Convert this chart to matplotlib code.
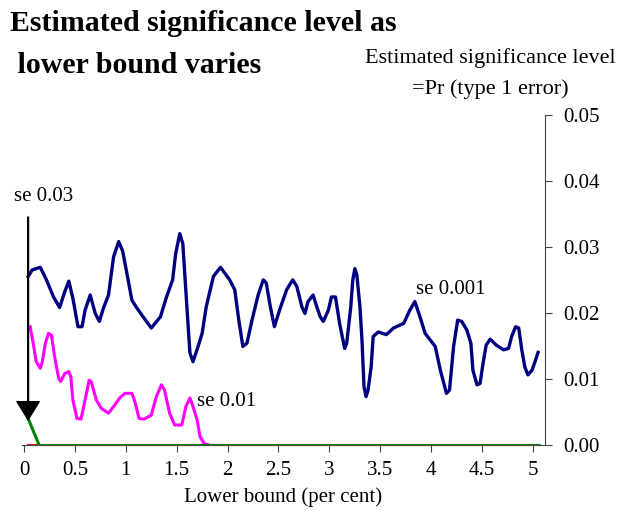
import numpy as np
import matplotlib
matplotlib.use('Agg')
import matplotlib.pyplot as plt

plt.rcParams['font.family'] = ['Liberation Serif', 'DejaVu Serif']

# se 0.001 series (navy)
x_001 = [0.04, 0.08, 0.16, 0.22, 0.29, 0.35, 0.40, 0.44, 0.48, 0.53, 0.57, 0.60, 0.65,
         0.70, 0.74, 0.78, 0.83, 0.88, 0.93, 0.97, 1.02, 1.06, 1.11, 1.17, 1.25, 1.34,
         1.40, 1.46, 1.49, 1.53, 1.56, 1.60, 1.63, 1.66, 1.71, 1.75, 1.79, 1.86, 1.93,
         2.02, 2.07, 2.11, 2.15, 2.19, 2.24, 2.30, 2.35, 2.38, 2.42, 2.46, 2.51, 2.58,
         2.64, 2.68, 2.73, 2.76, 2.79, 2.84, 2.87, 2.91, 2.94, 2.99, 3.02, 3.06, 3.10,
         3.15, 3.17, 3.21, 3.23, 3.25, 3.27, 3.30, 3.32, 3.34, 3.36, 3.38, 3.41, 3.43,
         3.48, 3.56, 3.63, 3.73, 3.79, 3.84, 3.89, 3.94, 3.99, 4.04, 4.09, 4.15, 4.18,
         4.22, 4.26, 4.30, 4.35, 4.39, 4.41, 4.45, 4.48, 4.51, 4.54, 4.58, 4.64, 4.71,
         4.76, 4.79, 4.83, 4.86, 4.89, 4.92, 4.95, 4.99, 5.02, 5.05]
y_001 = [0.0256, 0.0266, 0.0270, 0.0251, 0.0225, 0.0209, 0.0233, 0.0249, 0.0223, 0.0180,
         0.0180, 0.0205, 0.0228, 0.0200, 0.0188, 0.0208, 0.0228, 0.0286, 0.0309, 0.0294,
         0.0253, 0.0220, 0.0208, 0.0195, 0.0178, 0.0195, 0.0225, 0.0251, 0.0291, 0.0321,
         0.0306, 0.0210, 0.0140, 0.0127, 0.0150, 0.0170, 0.0210, 0.0256, 0.0270, 0.0251,
         0.0236, 0.0190, 0.0150, 0.0155, 0.0190, 0.0228, 0.0251, 0.0246, 0.0210, 0.0180,
         0.0205, 0.0236, 0.0251, 0.0241, 0.0210, 0.0200, 0.0218, 0.0228, 0.0213, 0.0195,
         0.0188, 0.0205, 0.0225, 0.0225, 0.0185, 0.0147, 0.0155, 0.0210, 0.0251, 0.0268,
         0.0258, 0.0210, 0.0160, 0.0089, 0.0074, 0.0084, 0.0119, 0.0165, 0.0172, 0.0168,
         0.0178, 0.0185, 0.0205, 0.0218, 0.0195, 0.0170, 0.0160, 0.0150, 0.0114, 0.0079,
         0.0084, 0.0150, 0.0190, 0.0188, 0.0175, 0.0155, 0.0114, 0.0092, 0.0094, 0.0125,
         0.0152, 0.0161, 0.0152, 0.0145, 0.0147, 0.0165, 0.0180, 0.0178, 0.0145, 0.0119,
         0.0107, 0.0114, 0.0127, 0.0141]

# se 0.01 series (magenta)
x_01 = [0.06, 0.09, 0.12, 0.16, 0.18, 0.21, 0.24, 0.27, 0.30, 0.34, 0.36, 0.40, 0.44,
        0.46, 0.48, 0.52, 0.56, 0.60, 0.64, 0.66, 0.71, 0.76, 0.83, 0.89, 0.94, 0.99,
        1.06, 1.09, 1.13, 1.18, 1.25, 1.30, 1.35, 1.38, 1.43, 1.48, 1.55, 1.59, 1.63,
        1.66, 1.70, 1.73, 1.77, 1.83]
y_01 = [0.0180, 0.0155, 0.0127, 0.0117, 0.0127, 0.0155, 0.0170, 0.0167, 0.0135, 0.0102,
        0.0097, 0.0109, 0.0112, 0.0104, 0.0069, 0.0041, 0.0040, 0.0069, 0.0099, 0.0097,
        0.0069, 0.0056, 0.0049, 0.0061, 0.0072, 0.0079, 0.0079, 0.0066, 0.0041, 0.0040,
        0.0046, 0.0074, 0.0092, 0.0084, 0.0049, 0.0031, 0.0031, 0.0059, 0.0072, 0.0059,
        0.0039, 0.0013, 0.0003, 0.0000]

# se 0.03 series (green) and a tiny red one at zero
x_03 = [0.04, 0.15, 5.06]
y_03 = [0.0041, 0.0, 0.0]
x_red = [0.04, 0.13]
y_red = [0.0, 0.0]

xticks = [0, 0.5, 1, 1.5, 2, 2.5, 3, 3.5, 4, 4.5, 5]
xticklabels = ['0', '0.5', '1', '1.5', '2', '2.5', '3', '3.5', '4', '4.5', '5']
yticks = [0.0, 0.01, 0.02, 0.03, 0.04, 0.05]

fig = plt.figure(figsize=(6.21, 5.11), dpi=100)
ax = fig.add_axes([0.0354, 0.1282, 0.8422, 0.6458])

ax.plot(x_red, y_red, color='#FF0000', linewidth=2.2, zorder=2)
ax.plot(x_01, y_01, color='#FF00FF', linewidth=2.2, zorder=3)
ax.plot(x_001, y_001, color='#000080', linewidth=2.4, zorder=3)
ax.plot(x_03, y_03, color='#008000', linewidth=2.2, zorder=4)

ax.annotate('', xy=(0.04, 0.0039), xytext=(0.04, 0.0346),
            arrowprops=dict(facecolor='black', edgecolor='black', width=0.6,
                            headwidth=16, headlength=13, shrink=0), zorder=5)

ax.text(0.19, 0.0378, 'se 0.03', ha='center', va='center', fontsize=15)
ax.text(1.70, 0.0066, 'se 0.01', ha='left', va='center', fontsize=15)
ax.text(3.85, 0.0236, 'se 0.001', ha='left', va='center', fontsize=15)

ax.set_xlim(-0.02, 5.118)
ax.set_ylim(0, 0.05)
ax.spines['top'].set_visible(False)
ax.spines['left'].set_visible(False)
ax.spines['right'].set_color('#444444')
ax.spines['bottom'].set_color('#444444')
ax.yaxis.tick_right()
ax.set_yticks(yticks)
ax.set_yticklabels(['%.2f' % v for v in yticks], fontsize=15)
ax.set_xticks(xticks)
ax.set_xticklabels(xticklabels, fontsize=15)
ax.tick_params(axis='y', direction='out', length=5, pad=8, color='#444444')
ax.tick_params(axis='x', direction='out', length=5, pad=6, color='#444444')
ax.set_xlabel('Lower bound (per cent)', fontsize=15, labelpad=5.5)

fig.text(0.016, 0.98, 'Estimated significance level as\n lower bound varies',
         fontsize=21.5, fontweight='bold', ha='left', va='top', linespacing=1.7)
fig.text(0.789, 0.906, 'Estimated significance level\n=Pr (type 1 error)',
         fontsize=16, ha='center', va='top', linespacing=1.75)

fig.savefig('out.png', dpi=100)
